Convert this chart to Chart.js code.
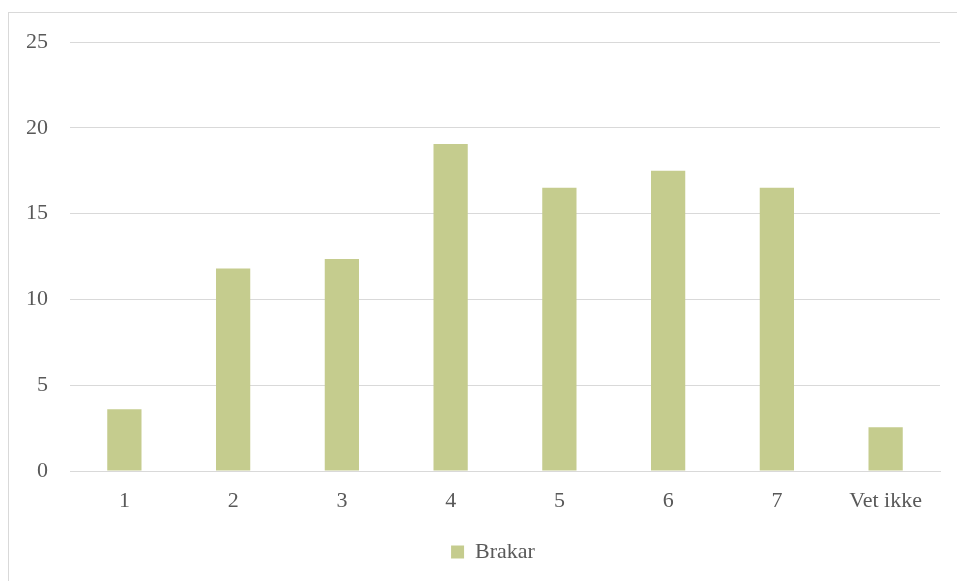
<!DOCTYPE html>
<html>
<head>
<meta charset="utf-8">
<script src="https://cdn.jsdelivr.net/npm/chart.js@4/dist/chart.umd.min.js"></script>
<style>
    html, body { margin: 0; padding: 0; background: #fff; }
    #wrap { position: relative; width: 957px; height: 581px; overflow: hidden; }
    #frame {
        position: absolute; left: 8px; top: 12px; width: 1000px; height: 700px;
        border-top: 1px solid #d9d9d9; border-left: 1px solid #d9d9d9;
    }
    #grafico { position: absolute; left: 0; top: 0; }
</style>
</head>
<body>
<div id="wrap">
    <div id="frame"></div>
    <canvas id="grafico" width="957" height="581"></canvas>
</div>
<script>
// datos del grafico
const categorias = ['1', '2', '3', '4', '5', '6', '7', 'Vet ikke'];
const valoresBrakar = [3.6, 11.8, 12.35, 19.05, 16.5, 17.5, 16.5, 2.55];
const nombreSerie = 'Brakar';
const ticksY = [0, 5, 10, 15, 20, 25];

const fuente = { family: "'Liberation Serif', 'DejaVu Serif', serif", size: 22 };
const colorTexto = '#595959';
const colorGrid = '#d9d9d9';

// centrar la leyenda sobre el area del grafico (como en Excel)
const leyendaCentrada = {
    id: 'leyendaCentrada',
    afterLayout(chart) {
        const leyenda = chart.legend;
        if (!leyenda) return;
        const desplazamiento = 19;
        leyenda.left += desplazamiento;
        leyenda.right += desplazamiento;
    }
};

function crearGrafico() {
    const ctx = document.getElementById('grafico');

    new Chart(ctx, {
        type: 'bar',
        data: {
            labels: categorias,
            datasets: [{
                label: nombreSerie,
                data: valoresBrakar,
                backgroundColor: '#c5cc8e',
                categoryPercentage: 1,
                barPercentage: 0.315
            }]
        },
        options: {
            responsive: false,
            animation: false,
            layout: {
                padding: { left: 8, right: 17, top: 42, bottom: 8 }
            },
            plugins: {
                legend: {
                    position: 'bottom',
                    labels: {
                        font: fuente,
                        color: colorTexto,
                        boxWidth: 13,
                        boxHeight: 13,
                        padding: 14
                    }
                },
                tooltip: { enabled: false }
            },
            scales: {
                x: {
                    grid: { display: false, drawTicks: false },
                    border: { display: true, color: colorGrid, width: 1 },
                    ticks: { font: fuente, color: colorTexto, padding: 17 },
                    afterFit: (eje) => { eje.height = 56; }
                },
                y: {
                    min: 0,
                    max: 25,
                    afterBuildTicks: (eje) => {
                        eje.ticks = ticksY.map(v => ({ value: v }));
                    },
                    afterFit: (eje) => { eje.width = 62; },
                    grid: { color: colorGrid, lineWidth: 1, drawTicks: false },
                    border: { display: false },
                    ticks: { font: fuente, color: colorTexto, padding: 22 }
                }
            }
        },
        plugins: [leyendaCentrada]
    });
}

crearGrafico();
</script>
</body>
</html>
